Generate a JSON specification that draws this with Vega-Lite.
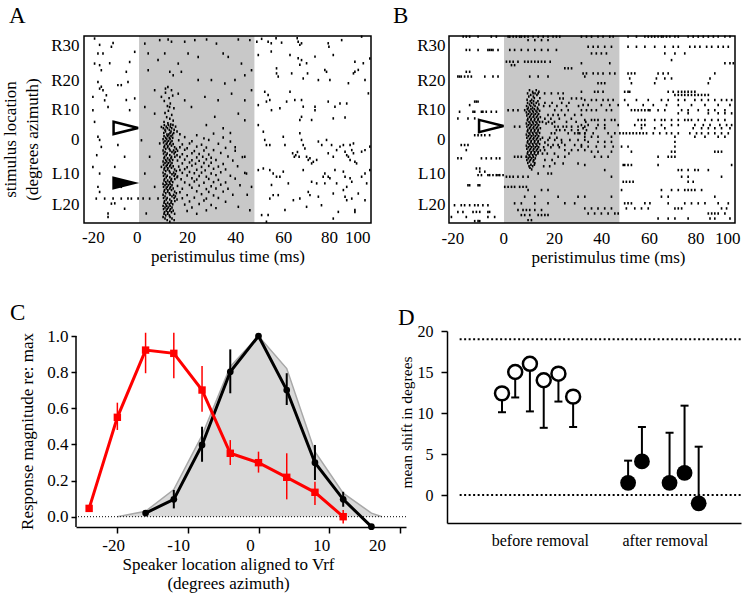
{
"$schema":"https://vega.github.io/schema/vega-lite/v6.json",
"background":"white",
"padding":{"left":1,"top":5,"right":5,"bottom":5},
"config":{"font":"Liberation Serif","view":{"stroke":null},
"axis":{"labelFont":"Liberation Serif","titleFont":"Liberation Serif","labelFontSize":17,"titleFontSize":17,"titleFontWeight":"normal","labelColor":"black","titleColor":"black","domainColor":"black","tickColor":"black","domainWidth":1.5,"tickWidth":1.5,"grid":false,"labelOverlap":false,"labelFlush":false},
"title":{"font":"Liberation Serif","fontSize":23,"fontWeight":"normal","anchor":"start","frame":"group","color":"black","baseline":"alphabetic"}},
"datasets":{
"a":[
{"t":-18.5,"y":32.3},{"t":-10.8,"y":30.9},{"t":-17.1,"y":27.6},{"t":-1.8,"y":28.1},{"t":-18.5,"y":24.4},{"t":-15.7,"y":22.3},{"t":-5.3,"y":21.8},{"t":-17.1,"y":18.6},{"t":-4.6,"y":18.6},{"t":-16.4,"y":16.5},{"t":-15,"y":16},{"t":-13.6,"y":14.4},{"t":-19.2,"y":13.9},{"t":-14.3,"y":12.8},{"t":-12.9,"y":10.7},{"t":-1.8,"y":13.4},{"t":-3.9,"y":9.7},{"t":-18.5,"y":6},{"t":-17.1,"y":1.3},{"t":-17.6,"y":-4.5},{"t":-16.4,"y":-10.3},{"t":-10.1,"y":-8.2},{"t":-7.4,"y":-14.5},{"t":-17.8,"y":-18.2},{"t":-14.3,"y":-18.2},{"t":-10.8,"y":-18.2},{"t":-7.4,"y":-18.2},{"t":-4.6,"y":-18.2},{"t":-3.2,"y":-18.2},{"t":-0.4,"y":-18.2},{"t":-12.9,"y":-22.9},{"t":-6,"y":-21.4},{"t":-11.5,"y":29.7},{"t":-3.9,"y":24.9},{"t":-8.8,"y":17.6},{"t":-19.2,"y":9.7},{"t":-15.7,"y":-1.9},{"t":-6,"y":-5},{"t":-11.5,"y":-19.8},{"t":-16.4,"y":-16.1},{"t":-16.4,"y":30.3},{"t":-15,"y":27.6},{"t":-12.2,"y":24.5},{"t":-16.4,"y":23.9},{"t":-15.7,"y":17.1},{"t":-7.4,"y":17.6},{"t":-5.3,"y":12.9},{"t":-16.4,"y":0.3},{"t":-8.8,"y":-1.3},{"t":-19.2,"y":-8.2},{"t":-17.1,"y":-14.5},{"t":-10.1,"y":-19.7},{"t":-12.9,"y":-24},
{"t":2.4,"y":30.7},{"t":8.6,"y":31.8},{"t":12.1,"y":32},{"t":13.5,"y":31.3},{"t":19,"y":31.3},{"t":23.2,"y":31.8},{"t":28.1,"y":32},{"t":32.2,"y":30.7},{"t":41.3,"y":32},{"t":46.1,"y":31.8},{"t":3.8,"y":27.6},{"t":7.9,"y":25.5},{"t":10.7,"y":27.6},{"t":16.3,"y":24.4},{"t":20.4,"y":27.6},{"t":24.6,"y":26.5},{"t":35,"y":27.6},{"t":37.1,"y":26.5},{"t":42.6,"y":24.4},{"t":46.8,"y":22.3},{"t":3.8,"y":22.3},{"t":12.8,"y":21.8},{"t":14.2,"y":20.7},{"t":17.6,"y":21.8},{"t":24.6,"y":19.2},{"t":30.1,"y":19.2},{"t":35.7,"y":18.1},{"t":39.9,"y":19.2},{"t":44,"y":20.7},{"t":6.5,"y":16},{"t":9.3,"y":13.9},{"t":16.3,"y":14.9},{"t":19,"y":12.8},{"t":27.4,"y":13.9},{"t":32.9,"y":12.8},{"t":38.5,"y":14.9},{"t":44,"y":12.8},{"t":46.8,"y":16},{"t":2.4,"y":10.7},{"t":6.5,"y":8.6},{"t":21.8,"y":10.7},{"t":31.5,"y":7.6},{"t":41.3,"y":8.6},{"t":44,"y":6.5},
{"t":1,"y":0.2},{"t":4.4,"y":-5},{"t":2.4,"y":-10.3},{"t":6.5,"y":-14.5},{"t":7.9,"y":-18.2},{"t":4.4,"y":-18.2},{"t":1.7,"y":-18.2},{"t":3,"y":-22.9},{"t":9.3,"y":4.4},{"t":8.6,"y":-0.8},{"t":9.3,"y":-8.2},{"t":44,"y":-5},{"t":46.8,"y":-14.5},{"t":46.1,"y":-21.9},{"t":41.3,"y":-20.8},{"t":44.7,"y":-10.3},{"t":40,"y":-2},{"t":38,"y":2.5},{"t":35,"y":4},{"t":28,"y":5},{"t":45,"y":-17},
{"t":12,"y":17},{"t":13.5,"y":16},{"t":11,"y":15.2},{"t":14,"y":14.3},{"t":12.5,"y":13.5},{"t":10.5,"y":12.6},{"t":13,"y":11.8},{"t":11.8,"y":11},{"t":14.5,"y":10.3},{"t":12.2,"y":9.5},{"t":10.8,"y":8.8},{"t":13.6,"y":8.2},{"t":11.5,"y":7.5},{"t":12.8,"y":7},{"t":14.2,"y":6.4},{"t":10.4,"y":6},{"t":12,"y":5.6},{"t":13.2,"y":5.2},{"t":11,"y":16.5},{"t":12.7,"y":10.7},
{"t":10.5,"y":5},{"t":12.2,"y":5},{"t":14.1,"y":5},{"t":11.3,"y":4.5},{"t":13,"y":4.5},{"t":15.2,"y":4.5},{"t":10.1,"y":4},{"t":11.8,"y":4},{"t":13.6,"y":4},{"t":12.6,"y":3.5},{"t":14.6,"y":3.5},{"t":10.8,"y":3.5},{"t":11,"y":3},{"t":13.3,"y":3},{"t":15.8,"y":3},{"t":10.3,"y":2.5},{"t":12.9,"y":2.5},{"t":14.4,"y":2.5},{"t":11.6,"y":2},{"t":12.4,"y":2},{"t":13.9,"y":2},{"t":10.4,"y":1.5},{"t":11.9,"y":1.5},{"t":13.3,"y":1.5},{"t":11.1,"y":1},{"t":12.6,"y":1},{"t":14,"y":1},{"t":10,"y":0.5},{"t":11.5,"y":0.5},{"t":12.9,"y":0.5},{"t":10.8,"y":0},{"t":12.2,"y":0},{"t":13.7,"y":0},{"t":10.2,"y":-0.5},{"t":11.7,"y":-0.5},{"t":13.1,"y":-0.5},{"t":11.3,"y":-1},{"t":12.8,"y":-1},{"t":14.2,"y":-1},{"t":10.6,"y":-1.5},{"t":12,"y":-1.5},{"t":13.5,"y":-1.5},{"t":10.4,"y":-2},{"t":11.9,"y":-2},{"t":14.8,"y":-2},{"t":11.1,"y":-2.5},{"t":12.6,"y":-2.5},{"t":15.5,"y":-2.5},{"t":10,"y":-3},{"t":12.9,"y":-3},{"t":14.4,"y":-3},{"t":10.8,"y":-3.5},{"t":13.7,"y":-3.5},{"t":15.1,"y":-3.5},{"t":10.2,"y":-4},{"t":11.7,"y":-4},{"t":14.6,"y":-4},{"t":11.3,"y":-4.5},{"t":12.8,"y":-4.5},{"t":15.8,"y":-4.5},{"t":10.6,"y":-5},{"t":13.5,"y":-5},{"t":14.9,"y":-5},{"t":10.4,"y":-5.5},{"t":11.9,"y":-5.5},{"t":13.3,"y":-5.5},{"t":11.1,"y":-6},{"t":12.6,"y":-6},{"t":14,"y":-6},{"t":10,"y":-6.5},{"t":11.5,"y":-6.5},{"t":12.9,"y":-6.5},{"t":10.8,"y":-7},{"t":12.2,"y":-7},{"t":13.7,"y":-7},{"t":10.2,"y":-7.5},{"t":11.7,"y":-7.5},{"t":13.1,"y":-7.5},{"t":11.3,"y":-8},{"t":12.8,"y":-8},{"t":14.2,"y":-8},{"t":10.6,"y":-8.5},{"t":12,"y":-8.5},{"t":13.5,"y":-8.5},{"t":10.4,"y":-9},{"t":11.9,"y":-9},{"t":14.8,"y":-9},{"t":11.1,"y":-9.5},{"t":12.6,"y":-9.5},{"t":15.5,"y":-9.5},{"t":10,"y":-10},{"t":12.9,"y":-10},{"t":14.4,"y":-10},{"t":10.8,"y":-10.5},{"t":13.7,"y":-10.5},{"t":15.1,"y":-10.5},{"t":10.2,"y":-11},{"t":11.7,"y":-11},{"t":14.6,"y":-11},{"t":11.3,"y":-11.5},{"t":12.8,"y":-11.5},{"t":15.8,"y":-11.5},{"t":10.6,"y":-12},{"t":13.5,"y":-12},{"t":14.9,"y":-12},{"t":10.4,"y":-12.5},{"t":11.9,"y":-12.5},{"t":13.3,"y":-12.5},{"t":11.1,"y":-13},{"t":12.6,"y":-13},{"t":14,"y":-13},{"t":10,"y":-13.5},{"t":11.5,"y":-13.5},{"t":12.9,"y":-13.5},{"t":10.8,"y":-14},{"t":12.2,"y":-14},{"t":13.7,"y":-14},{"t":10.2,"y":-14.5},{"t":11.7,"y":-14.5},{"t":13.1,"y":-14.5},{"t":11.3,"y":-15},{"t":12.8,"y":-15},{"t":14.2,"y":-15},{"t":10.6,"y":-15.5},{"t":12,"y":-15.5},{"t":13.5,"y":-15.5},{"t":10.4,"y":-16},{"t":11.9,"y":-16},{"t":14.8,"y":-16},{"t":11.1,"y":-16.5},{"t":12.6,"y":-16.5},{"t":15.5,"y":-16.5},{"t":10,"y":-17},{"t":12.9,"y":-17},{"t":14.4,"y":-17},{"t":10.8,"y":-17.5},{"t":13.7,"y":-17.5},{"t":15.1,"y":-17.5},{"t":10.2,"y":-18},{"t":11.7,"y":-18},{"t":14.6,"y":-18},{"t":11.3,"y":-18.5},{"t":12.8,"y":-18.5},{"t":15.8,"y":-18.5},{"t":10.6,"y":-19},{"t":13.5,"y":-19},{"t":14.9,"y":-19},{"t":10.4,"y":-19.5},{"t":11.9,"y":-19.5},{"t":13.3,"y":-19.5},{"t":11.1,"y":-20},{"t":12.6,"y":-20},{"t":14,"y":-20},{"t":10,"y":-20.5},{"t":11.5,"y":-20.5},{"t":12.9,"y":-20.5},{"t":10.8,"y":-21},{"t":12.2,"y":-21},{"t":13.7,"y":-21},{"t":10.2,"y":-21.5},{"t":11.7,"y":-21.5},{"t":13.1,"y":-21.5},{"t":11.3,"y":-22},{"t":12.8,"y":-22},{"t":14.2,"y":-22},{"t":10.6,"y":-22.5},{"t":12,"y":-22.5},{"t":13.5,"y":-22.5},{"t":10.4,"y":-23},{"t":11.9,"y":-23},{"t":14.8,"y":-23},{"t":11.1,"y":-23.5},{"t":12.6,"y":-23.5},{"t":10,"y":-24},{"t":12.9,"y":-24},{"t":10.8,"y":-24.5},{"t":13.7,"y":-24.5},{"t":11.7,"y":-25},{"t":14.6,"y":-25},{"t":12.8,"y":-25.5},
{"t":17,"y":2.1},{"t":24,"y":1.8},{"t":31,"y":2.3},{"t":19,"y":1.2},{"t":27,"y":0.8},{"t":35,"y":1.1},{"t":16.5,"y":0.2},{"t":22,"y":-0.1},{"t":29,"y":0.3},{"t":38,"y":-0.2},{"t":18,"y":-1.1},{"t":21,"y":-0.8},{"t":26,"y":-1.2},{"t":33,"y":-0.9},{"t":17,"y":-2},{"t":20,"y":-2.3},{"t":24,"y":-1.8},{"t":28,"y":-2.1},{"t":36,"y":-2.2},{"t":16,"y":-3.1},{"t":19,"y":-2.8},{"t":23,"y":-3.2},{"t":27,"y":-3},{"t":31,"y":-2.9},{"t":40,"y":-3.1},{"t":18,"y":-4.2},{"t":22,"y":-3.9},{"t":25,"y":-4.1},{"t":29,"y":-4.3},{"t":34,"y":-3.8},{"t":17,"y":-5.1},{"t":20,"y":-4.8},{"t":24,"y":-5.2},{"t":26.5,"y":-5},{"t":30,"y":-5.3},{"t":37,"y":-4.9},{"t":43,"y":-5.1},{"t":16,"y":-6.2},{"t":19,"y":-5.9},{"t":22,"y":-6.1},{"t":25,"y":-6.3},{"t":28,"y":-5.8},{"t":32,"y":-6},{"t":39,"y":-6.2},{"t":18,"y":-7.1},{"t":21,"y":-6.8},{"t":23.5,"y":-7.2},{"t":27,"y":-7},{"t":30,"y":-6.9},{"t":35,"y":-7.3},{"t":16.5,"y":-8.1},{"t":20,"y":-8.3},{"t":22,"y":-7.8},{"t":26,"y":-8.2},{"t":29,"y":-7.9},{"t":33,"y":-8.1},{"t":41,"y":-8},{"t":17,"y":-9.2},{"t":19,"y":-8.9},{"t":24,"y":-9.1},{"t":27.5,"y":-9.3},{"t":31,"y":-8.8},{"t":36,"y":-9},{"t":18,"y":-10.1},{"t":21,"y":-9.8},{"t":23,"y":-10.2},{"t":26,"y":-10},{"t":30,"y":-10.3},{"t":34,"y":-9.9},{"t":44,"y":-10.1},{"t":16,"y":-11.2},{"t":20,"y":-10.9},{"t":25,"y":-11.1},{"t":28,"y":-11.3},{"t":32,"y":-10.8},{"t":38,"y":-11},{"t":17.5,"y":-12.1},{"t":22,"y":-11.8},{"t":24,"y":-12.2},{"t":29,"y":-12},{"t":33,"y":-12.3},{"t":40,"y":-11.9},{"t":19,"y":-13.1},{"t":23,"y":-12.8},{"t":27,"y":-13.2},{"t":31,"y":-13},{"t":36,"y":-13.1},{"t":16,"y":-14.2},{"t":21,"y":-13.9},{"t":25,"y":-14.1},{"t":30,"y":-14.3},{"t":34,"y":-13.8},{"t":42,"y":-14},{"t":18,"y":-15.1},{"t":22,"y":-14.8},{"t":28,"y":-15.2},{"t":32,"y":-15},{"t":37,"y":-15.1},{"t":17,"y":-16.2},{"t":24,"y":-15.9},{"t":29,"y":-16.1},{"t":35,"y":-16},{"t":20,"y":-17.1},{"t":26,"y":-16.8},{"t":31,"y":-17.2},{"t":39,"y":-17},{"t":18,"y":-18.1},{"t":23,"y":-17.9},{"t":28,"y":-18.2},{"t":33,"y":-18},{"t":21,"y":-19.1},{"t":27,"y":-18.8},{"t":36,"y":-19.2},{"t":19,"y":-20.1},{"t":25,"y":-19.9},{"t":30,"y":-20.2},{"t":22,"y":-21},{"t":32,"y":-21.2},{"t":20,"y":-22.1},{"t":28,"y":-21.9},{"t":24,"y":-23},
{"t":49,"y":31.3},{"t":51,"y":32.2},{"t":53.7,"y":31.3},{"t":55,"y":30.8},{"t":57,"y":32.4},{"t":59.3,"y":31},{"t":65.8,"y":32.4},{"t":66.2,"y":31.3},{"t":66.9,"y":30.3},{"t":67.6,"y":30.8},{"t":78.7,"y":30.8},{"t":79,"y":29.7},{"t":84.3,"y":31.8},{"t":92.6,"y":32.9},
{"t":49.6,"y":27.1},{"t":55,"y":28.2},{"t":62.8,"y":27.1},{"t":66.2,"y":26.1},{"t":67.6,"y":25.5},{"t":66.9,"y":24},{"t":69.7,"y":24.5},{"t":73.2,"y":26.6},{"t":77.3,"y":22.4},{"t":78,"y":21.8},{"t":80.8,"y":27.1},{"t":89.8,"y":25},{"t":91.2,"y":22.4},{"t":93.3,"y":24.5},{"t":96,"y":26},
{"t":57.2,"y":21.3},{"t":57.9,"y":20.3},{"t":57.2,"y":22.9},{"t":63.5,"y":21.3},{"t":68.3,"y":19.7},{"t":70.1,"y":21.3},{"t":74.6,"y":19.2},{"t":79.4,"y":19.2},{"t":87.1,"y":18.2},{"t":89.2,"y":21.3},{"t":89.8,"y":21.8},{"t":94,"y":19.2},{"t":95.4,"y":15},
{"t":52.3,"y":15.5},{"t":53.7,"y":14.5},{"t":54.4,"y":12.9},{"t":53,"y":12.4},{"t":49.6,"y":11.3},{"t":55.1,"y":9.7},{"t":58.6,"y":10.3},{"t":61.4,"y":12.4},{"t":62.8,"y":15.5},{"t":64.8,"y":12.9},{"t":67.6,"y":12.9},{"t":68.3,"y":10.8},{"t":73.2,"y":10.8},{"t":73.2,"y":9.7},{"t":67.6,"y":7.6},{"t":66.9,"y":6.6},{"t":71.8,"y":6.6},{"t":78.7,"y":12.4},{"t":83.6,"y":11.8},{"t":86.4,"y":11.8},{"t":81.5,"y":10.8},{"t":85.7,"y":7.4},{"t":80.8,"y":7.1},
{"t":49.6,"y":5},{"t":51.7,"y":2.9},{"t":52.3,"y":0.3},{"t":53,"y":-1.3},{"t":54.4,"y":-1.3},{"t":60,"y":1.3},{"t":60.7,"y":-1.3},{"t":66.9,"y":2.4},{"t":67.6,"y":0.3},{"t":68.3,"y":-1.3},{"t":69,"y":-2.4},{"t":63.9,"y":-3.9},{"t":64.6,"y":-5},{"t":65.2,"y":-4.5},{"t":65.9,"y":-3.5},{"t":66.6,"y":-5},{"t":69.7,"y":-5},{"t":70.4,"y":-6},{"t":71.1,"y":-5.5},{"t":71.8,"y":-7.1},{"t":72.5,"y":-6.6},{"t":73.9,"y":-6},{"t":74.6,"y":-0.2},{"t":76,"y":-1.3},{"t":78,"y":0.3},{"t":80.1,"y":-1.3},{"t":78.7,"y":-3.9},{"t":80.8,"y":-5},{"t":82.2,"y":-2.9},{"t":83.6,"y":-1.8},{"t":85,"y":-1.3},{"t":85.7,"y":-3.4},{"t":86.4,"y":-4.5},{"t":87.1,"y":-5},{"t":87.8,"y":-6},{"t":87.8,"y":-1.3},{"t":88.5,"y":-2.9},{"t":89.2,"y":-0.8},{"t":89.2,"y":-3.9},{"t":89.8,"y":-6.6},{"t":90.5,"y":-7.1},{"t":92.6,"y":-3.4},{"t":94,"y":-2.9},{"t":96,"y":-1.8},
{"t":49.6,"y":-9.2},{"t":51.7,"y":-8.7},{"t":54.4,"y":-9.2},{"t":55.8,"y":-10.3},{"t":57.2,"y":-11.3},{"t":58.6,"y":-11.3},{"t":60,"y":-9.7},{"t":62.1,"y":-13.4},{"t":68.3,"y":-9.2},{"t":71.8,"y":-12.9},{"t":73.9,"y":-13.4},{"t":76.6,"y":-11.3},{"t":77.3,"y":-10.3},{"t":78.7,"y":-11.3},{"t":79.4,"y":-11.8},{"t":81.5,"y":-9.2},{"t":82.2,"y":-13.4},{"t":85,"y":-9.7},{"t":85.7,"y":-11.3},{"t":86.4,"y":-14.5},{"t":85,"y":-15.5},{"t":87.8,"y":-11.8},{"t":88.5,"y":-12.9},{"t":92.6,"y":-11.3},{"t":94,"y":-10.3},{"t":94.7,"y":-13.4},{"t":96,"y":-9.2},
{"t":55.1,"y":-13.9},{"t":55.8,"y":-17.1},{"t":54.4,"y":-18.2},{"t":57.9,"y":-17.1},{"t":64.2,"y":-18.7},{"t":66.9,"y":-18.2},{"t":70.4,"y":-16.1},{"t":71.1,"y":-17.1},{"t":74.6,"y":-17.6},{"t":77.3,"y":-13.4},{"t":80.8,"y":-16.6},{"t":85.7,"y":-17.6},{"t":86.4,"y":-18.7},{"t":88.5,"y":-18.2},{"t":89.8,"y":-21.8},{"t":91.2,"y":-16.6},
{"t":53.7,"y":-23.4},{"t":51,"y":-23.4},{"t":53,"y":-25.5},{"t":60.7,"y":-21.8},{"t":69.7,"y":-20.8},{"t":75.9,"y":-20.3},{"t":80.8,"y":-24.5},{"t":82.9,"y":-22.4},{"t":89.8,"y":-22.4},{"t":94,"y":-18.7}
],
"b":[
{"t":-17,"y":32.9},{"t":-15.7,"y":32.9},{"t":-14.3,"y":32.9},{"t":-10.8,"y":32.9},{"t":-5.3,"y":32.9},{"t":-3.2,"y":32.9},
{"t":-15.7,"y":28.7},{"t":-14.3,"y":28.7},{"t":-10.8,"y":28.7},{"t":-6.7,"y":28.7},{"t":-6,"y":28.7},{"t":-5.3,"y":28.7},{"t":-4.6,"y":28.7},{"t":-2.5,"y":28.7},
{"t":-15.7,"y":21.8},{"t":-14.3,"y":21.8},
{"t":-19.2,"y":20.3},{"t":-18.5,"y":20.3},{"t":-17.8,"y":20.3},{"t":-16.4,"y":20.3},{"t":-15,"y":20.3},{"t":-13.6,"y":20.3},{"t":-8,"y":20.3},{"t":-4.6,"y":20.3},{"t":-2.5,"y":20.3},
{"t":-12.2,"y":12.4},{"t":-11.5,"y":12.4},{"t":-10.8,"y":12.4},{"t":-14.3,"y":11.3},
{"t":-18.5,"y":9.2},{"t":-12.9,"y":9.2},{"t":-12.2,"y":9.2},{"t":-9.4,"y":9.2},{"t":-8.8,"y":9.2},{"t":-7.4,"y":9.2},{"t":-5.3,"y":9.2},{"t":-3.2,"y":9.2},
{"t":-19.2,"y":7.1},{"t":-15,"y":7.1},{"t":-12.2,"y":7.1},
{"t":-12.2,"y":1.8},{"t":-10.8,"y":1.8},{"t":-9.4,"y":1.8},{"t":-8,"y":1.8},{"t":-6,"y":1.8},
{"t":-17.8,"y":-1.3},{"t":-16.4,"y":-1.3},{"t":-15,"y":-1.3},{"t":-15.7,"y":-2.9},
{"t":-19.2,"y":-5.5},{"t":-17.8,"y":-5.5},{"t":-9.4,"y":-5.5},{"t":-7.4,"y":-5.5},{"t":-5.3,"y":-5.5},{"t":-3.2,"y":-5.5},{"t":-1.8,"y":-5.5},
{"t":-11.5,"y":-8.7},{"t":-10.1,"y":-8.7},{"t":-10.1,"y":-9.7},{"t":-8,"y":-9.7},
{"t":-10.8,"y":-10.8},{"t":-9.4,"y":-10.8},{"t":-6.7,"y":-10.8},{"t":-6,"y":-10.8},{"t":-4.6,"y":-10.8},{"t":-3.2,"y":-10.8},{"t":-2.5,"y":-10.8},{"t":-1.8,"y":-10.8},{"t":-0.4,"y":-10.8},
{"t":-15,"y":-14},{"t":-14.3,"y":-14},{"t":-10.8,"y":-14},{"t":-10.1,"y":-14},
{"t":-20.6,"y":-20.3},{"t":-17.8,"y":-20.3},{"t":-16.4,"y":-20.3},{"t":-14.3,"y":-20.3},{"t":-12.2,"y":-20.3},{"t":-10.8,"y":-20.3},{"t":-8.8,"y":-20.3},{"t":-6.7,"y":-20.3},
{"t":-19.2,"y":-22.4},{"t":-17.1,"y":-22.4},{"t":-12.9,"y":-22.4},{"t":-11.5,"y":-22.4},{"t":-10.1,"y":-22.4},{"t":-6.7,"y":-22.4},{"t":-6,"y":-22.4},
{"t":-21.9,"y":-24},{"t":-15.7,"y":-24},{"t":-6.7,"y":-24},{"t":-3.9,"y":-24},{"t":-12.2,"y":-25.3},{"t":-10.8,"y":-25.3},{"t":-10.1,"y":-25.3},
{"t":1.7,"y":32.9},{"t":2.4,"y":32.9},{"t":3.8,"y":32.9},{"t":5.1,"y":32.9},{"t":6.5,"y":32.9},{"t":7.2,"y":32.9},{"t":8.6,"y":32.9},{"t":10,"y":32.9},{"t":12.1,"y":32.9},{"t":14.2,"y":32.9},{"t":16.3,"y":32.9},{"t":18.3,"y":32.9},{"t":20.4,"y":32.9},{"t":21.8,"y":32.9},{"t":23.2,"y":32.9},
{"t":10,"y":31.8},{"t":12.8,"y":31.8},{"t":15.6,"y":31.8},{"t":18.3,"y":31.8},
{"t":2.4,"y":28.7},{"t":4.4,"y":28.7},{"t":7.2,"y":28.7},{"t":10,"y":28.7},{"t":12.8,"y":28.7},{"t":15.6,"y":28.7},{"t":18.3,"y":28.7},{"t":21.8,"y":28.7},
{"t":1,"y":25},{"t":2.4,"y":25},{"t":3.8,"y":25},{"t":5.8,"y":25},{"t":8.6,"y":25},{"t":10,"y":25},{"t":11.4,"y":25},{"t":12.8,"y":25},{"t":14.2,"y":25},{"t":15.6,"y":25},{"t":17,"y":25},{"t":19.2,"y":25},
{"t":3.1,"y":23.9},{"t":4.4,"y":23.9},{"t":25.3,"y":22.9},{"t":26.7,"y":22.9},{"t":28.1,"y":22.9},
{"t":10.7,"y":20.3},{"t":14.2,"y":20.3},{"t":18.3,"y":20.3},{"t":33.6,"y":20.3},
{"t":12.1,"y":15},{"t":14.2,"y":15},{"t":16.9,"y":15},{"t":19.7,"y":15},{"t":22.5,"y":15},{"t":24.6,"y":15},
{"t":23.2,"y":13.4},{"t":24.6,"y":13.4},{"t":28.1,"y":13.4},{"t":30.1,"y":13.4},{"t":32.2,"y":13.4},
{"t":1.7,"y":9.7},{"t":3.8,"y":9.7},{"t":5.8,"y":9.7},{"t":8.6,"y":9.7},{"t":21.1,"y":9.7},{"t":23.9,"y":9.7},{"t":26.7,"y":9.7},
{"t":18.3,"y":8.2},{"t":20.4,"y":8.2},{"t":22.5,"y":8.2},{"t":25.3,"y":8.2},{"t":29.4,"y":8.2},{"t":32.2,"y":8.2},
{"t":4.4,"y":4.5},{"t":6.5,"y":4.5},{"t":21.1,"y":4.5},{"t":22.5,"y":4.5},{"t":24.6,"y":4.5},{"t":26,"y":4.5},{"t":28.1,"y":4.5},{"t":30.8,"y":4.5},{"t":33.6,"y":4.5},
{"t":21.8,"y":3.4},{"t":23.2,"y":3.4},{"t":25.3,"y":3.4},{"t":28.1,"y":3.4},{"t":30.8,"y":3.4},{"t":34.3,"y":3.4},
{"t":19.7,"y":2.4},{"t":21.1,"y":2.4},{"t":26.7,"y":2.4},{"t":29.4,"y":2.4},{"t":31.5,"y":2.4},{"t":33.6,"y":2.4},
{"t":18.3,"y":0.3},{"t":21.1,"y":0.3},{"t":23.9,"y":0.3},{"t":27.4,"y":0.3},{"t":30.8,"y":0.3},{"t":33.6,"y":0.3},
{"t":18.3,"y":-1.3},{"t":20.4,"y":-1.3},{"t":22.5,"y":-1.3},{"t":25.3,"y":-1.3},{"t":29.4,"y":-1.3},{"t":32.2,"y":-1.3},
{"t":16.9,"y":-2.9},{"t":25.3,"y":-2.9},{"t":28.1,"y":-2.9},{"t":30.8,"y":-2.9},{"t":33.6,"y":-2.9},
{"t":4.4,"y":-5},{"t":5.8,"y":-5},{"t":7.2,"y":-5},{"t":9.3,"y":-5},{"t":22.5,"y":-5},{"t":25.3,"y":-5},
{"t":21.1,"y":-7.1},{"t":24.6,"y":-7.1},{"t":30.8,"y":-7.1},{"t":14.2,"y":-10.3},{"t":18.3,"y":-10.3},{"t":19.7,"y":-10.3},
{"t":1,"y":-11.3},{"t":2.4,"y":-11.3},{"t":3.8,"y":-11.3},{"t":5.8,"y":-11.3},{"t":7.9,"y":-11.3},{"t":10,"y":-11.3},
{"t":0.3,"y":-14.5},{"t":1.7,"y":-14.5},{"t":3.1,"y":-14.5},{"t":4.4,"y":-14.5},{"t":6.5,"y":-14.5},{"t":7.9,"y":-14.5},{"t":9.3,"y":-14.5},
{"t":10,"y":-15.5},{"t":15.6,"y":-15.5},{"t":18.3,"y":-15.5},{"t":8.6,"y":-17.6},{"t":12.8,"y":-17.6},{"t":22.5,"y":-17.6},{"t":30.8,"y":-17.6},
{"t":4.4,"y":-19.7},{"t":7.2,"y":-19.7},{"t":12.8,"y":-19.7},{"t":18.3,"y":-19.7},{"t":25.3,"y":-19.7},{"t":29.4,"y":-19.7},
{"t":5.8,"y":-21.8},{"t":7.9,"y":-21.8},{"t":9.3,"y":-21.8},{"t":10.7,"y":-21.8},{"t":12.8,"y":-21.8},{"t":15.6,"y":-21.8},
{"t":7.2,"y":-23.4},{"t":8.6,"y":-23.4},{"t":10.7,"y":-23.4},{"t":14.2,"y":-23.4},{"t":15.6,"y":-23.4},{"t":17,"y":-23.4},{"t":18.3,"y":-23.4},{"t":10,"y":-25},{"t":11.4,"y":-25},
{"t":17,"y":12},{"t":20,"y":12},{"t":24,"y":12},{"t":27,"y":12},{"t":16.5,"y":11},{"t":19,"y":11},{"t":22,"y":11},{"t":26,"y":11},{"t":31,"y":11},{"t":17,"y":7},{"t":19.5,"y":7},{"t":23,"y":7},{"t":28,"y":7},{"t":16,"y":6},{"t":18.5,"y":6},{"t":21,"y":6},{"t":26,"y":6},{"t":30,"y":6},{"t":34,"y":6},{"t":17.5,"y":5.5},{"t":20,"y":5.5},{"t":16,"y":1},{"t":19,"y":1},{"t":22,"y":1},{"t":17,"y":-0.5},{"t":24,"y":-0.5},{"t":16.5,"y":-2},{"t":19.5,"y":-2},{"t":23,"y":-2},{"t":16,"y":-4},{"t":18,"y":-4},{"t":21,"y":-4},{"t":27,"y":-4},{"t":17,"y":-6},{"t":20,"y":-6},{"t":16.5,"y":-8},{"t":19,"y":-8},
{"t":10.6,"y":16},{"t":13.4,"y":16},{"t":11.9,"y":15.5},{"t":14.5,"y":15.5},{"t":9.8,"y":15},{"t":12.9,"y":15},{"t":11.1,"y":14.5},{"t":13.7,"y":14.5},{"t":10.3,"y":14},{"t":12.2,"y":14},{"t":12.6,"y":13.5},{"t":14.9,"y":13.5},{"t":9.6,"y":13},{"t":11.5,"y":13},
{"t":10.9,"y":12.5},{"t":12.3,"y":12.5},{"t":14.1,"y":12.5},{"t":9.8,"y":12},{"t":11.5,"y":12},{"t":13.4,"y":12},{"t":10.6,"y":11.5},{"t":12.3,"y":11.5},{"t":14.5,"y":11.5},{"t":9.4,"y":11},{"t":11.1,"y":11},{"t":12.9,"y":11},{"t":11.9,"y":10.5},{"t":13.9,"y":10.5},{"t":10.1,"y":10.5},
{"t":9.7,"y":10},{"t":11.2,"y":10},{"t":12.6,"y":10},{"t":14.1,"y":10},{"t":10.4,"y":9.5},{"t":11.9,"y":9.5},{"t":13.3,"y":9.5},{"t":14.8,"y":9.5},{"t":9.3,"y":9},{"t":10.8,"y":9},{"t":12.2,"y":9},{"t":13.7,"y":9},{"t":10.1,"y":8.5},{"t":11.5,"y":8.5},{"t":13,"y":8.5},{"t":14.4,"y":8.5},{"t":9.5,"y":8},{"t":11,"y":8},{"t":12.4,"y":8},{"t":13.9,"y":8},{"t":10.6,"y":7.5},{"t":12.1,"y":7.5},{"t":13.5,"y":7.5},{"t":15.1,"y":7.5},{"t":9.9,"y":7},{"t":11.3,"y":7},{"t":12.8,"y":7},{"t":14.2,"y":7},
{"t":9.7,"y":6.5},{"t":11.2,"y":6.5},{"t":12.6,"y":6.5},{"t":14.1,"y":6.5},{"t":10.4,"y":6},{"t":11.9,"y":6},{"t":13.3,"y":6},{"t":14.8,"y":6},{"t":9.3,"y":5.5},{"t":10.8,"y":5.5},{"t":12.2,"y":5.5},{"t":13.7,"y":5.5},{"t":10.1,"y":5},{"t":11.5,"y":5},{"t":13,"y":5},{"t":14.4,"y":5},{"t":9.5,"y":4.5},{"t":11,"y":4.5},{"t":12.4,"y":4.5},{"t":13.9,"y":4.5},{"t":10.6,"y":4},{"t":12.1,"y":4},{"t":13.5,"y":4},{"t":15.1,"y":4},{"t":9.9,"y":3.5},{"t":11.3,"y":3.5},{"t":12.8,"y":3.5},{"t":14.2,"y":3.5},
{"t":9.7,"y":3},{"t":11.2,"y":3},{"t":12.6,"y":3},{"t":14.1,"y":3},{"t":10.4,"y":2.5},{"t":11.9,"y":2.5},{"t":13.3,"y":2.5},{"t":14.8,"y":2.5},{"t":9.3,"y":2},{"t":10.8,"y":2},{"t":12.2,"y":2},{"t":13.7,"y":2},{"t":10.1,"y":1.5},{"t":11.5,"y":1.5},{"t":13,"y":1.5},{"t":14.4,"y":1.5},{"t":9.5,"y":1},{"t":11,"y":1},{"t":12.4,"y":1},{"t":13.9,"y":1},{"t":10.6,"y":0.5},{"t":12.1,"y":0.5},{"t":13.5,"y":0.5},{"t":15.1,"y":0.5},{"t":9.9,"y":0},{"t":11.3,"y":0},{"t":12.8,"y":0},{"t":14.2,"y":0},
{"t":9.7,"y":-0.5},{"t":11.2,"y":-0.5},{"t":12.6,"y":-0.5},{"t":14.1,"y":-0.5},{"t":10.4,"y":-1},{"t":11.9,"y":-1},{"t":13.3,"y":-1},{"t":14.8,"y":-1},{"t":9.3,"y":-1.5},{"t":10.8,"y":-1.5},{"t":12.2,"y":-1.5},{"t":13.7,"y":-1.5},{"t":10.1,"y":-2},{"t":11.5,"y":-2},{"t":13,"y":-2},{"t":14.4,"y":-2},{"t":9.5,"y":-2.5},{"t":11,"y":-2.5},{"t":12.4,"y":-2.5},{"t":13.9,"y":-2.5},{"t":10.6,"y":-3},{"t":12.1,"y":-3},{"t":13.5,"y":-3},{"t":15.1,"y":-3},{"t":9.9,"y":-3.5},{"t":11.3,"y":-3.5},{"t":12.8,"y":-3.5},{"t":14.2,"y":-3.5},
{"t":9.7,"y":-4},{"t":11.2,"y":-4},{"t":12.6,"y":-4},{"t":14.1,"y":-4},{"t":10.4,"y":-4.5},{"t":11.9,"y":-4.5},{"t":13.3,"y":-4.5},{"t":9.3,"y":-5},{"t":10.8,"y":-5},{"t":12.2,"y":-5},{"t":10.1,"y":-5.5},{"t":11.5,"y":-5.5},{"t":13,"y":-5.5},{"t":9.5,"y":-6},{"t":11,"y":-6},{"t":12.4,"y":-6},{"t":10.6,"y":-6.5},{"t":12.1,"y":-6.5},{"t":9.9,"y":-7},{"t":12.8,"y":-7},{"t":11.2,"y":-7.5},{"t":12.6,"y":-7.5},{"t":10.4,"y":-8},{"t":11.9,"y":-8},{"t":10.8,"y":-8.5},{"t":11.5,"y":-9},
{"t":32.2,"y":32.9},{"t":34.3,"y":32.9},{"t":36.4,"y":32.9},{"t":39.1,"y":32.9},{"t":41.2,"y":32.9},{"t":44,"y":32.9},{"t":45.4,"y":32.9},{"t":51.6,"y":32.9},{"t":55.1,"y":32.9},{"t":58.6,"y":32.9},{"t":60,"y":32.9},{"t":61.4,"y":32.9},{"t":62.7,"y":32.9},{"t":64.1,"y":32.9},{"t":65.5,"y":32.9},{"t":66.2,"y":32.9},{"t":67.6,"y":32.9},{"t":69,"y":32.9},{"t":71.1,"y":32.9},{"t":72.5,"y":32.9},{"t":76.6,"y":32.9},{"t":78.7,"y":32.9},{"t":80.8,"y":32.9},{"t":82.9,"y":32.9},{"t":85,"y":32.9},{"t":87.1,"y":32.9},{"t":89.1,"y":32.9},{"t":91.9,"y":32.9},{"t":94,"y":32.9},
{"t":35,"y":29.7},{"t":37.1,"y":29.7},{"t":39.1,"y":29.7},{"t":41.9,"y":29.7},{"t":44.7,"y":29.7},{"t":51.6,"y":29.7},{"t":55.1,"y":29.7},{"t":58.6,"y":29.7},{"t":62.7,"y":29.7},{"t":66.9,"y":29.7},{"t":70.4,"y":29.7},{"t":72.5,"y":29.7},{"t":77.3,"y":29.7},{"t":79.4,"y":29.7},{"t":81.5,"y":29.7},{"t":84.3,"y":29.7},{"t":86.4,"y":29.7},{"t":89.1,"y":29.7},{"t":91.2,"y":29.7},{"t":93.3,"y":29.7},
{"t":36.4,"y":27.6},{"t":38.4,"y":27.6},{"t":40.5,"y":27.6},{"t":42.6,"y":27.6},{"t":66.9,"y":27.6},{"t":71.1,"y":27.6},{"t":75.2,"y":27.6},{"t":69.7,"y":25.5},
{"t":32.2,"y":24.5},{"t":44,"y":24.5},{"t":91.9,"y":24.5},{"t":94,"y":24.5},{"t":95.4,"y":24.5},
{"t":32.9,"y":21.3},{"t":34.3,"y":21.3},{"t":37.1,"y":21.3},{"t":39.1,"y":21.3},{"t":41.2,"y":21.3},{"t":44,"y":21.3},{"t":46.1,"y":21.3},{"t":51.6,"y":21.3},{"t":53,"y":21.3},{"t":54.4,"y":21.3},{"t":64.1,"y":21.3},{"t":66.2,"y":21.3},{"t":68.3,"y":21.3},{"t":87.7,"y":21.3},
{"t":52.3,"y":19.7},{"t":63.4,"y":19.7},{"t":66.9,"y":19.7},{"t":69.7,"y":19.7},{"t":85.7,"y":19.7},
{"t":39.1,"y":18.2},{"t":40.5,"y":18.2},{"t":41.9,"y":18.2},{"t":53,"y":18.2},{"t":62.7,"y":18.2},{"t":85,"y":18.2},
{"t":32.2,"y":15.5},{"t":37.7,"y":15.5},{"t":39.1,"y":15.5},{"t":41.2,"y":15.5},{"t":50.2,"y":15.5},{"t":51.6,"y":15.5},{"t":52.3,"y":15.5},{"t":68.3,"y":15.5},{"t":70.4,"y":15.5},{"t":72.5,"y":15.5},{"t":73.9,"y":15.5},{"t":75.2,"y":15.5},{"t":76.6,"y":15.5},{"t":78,"y":15.5},{"t":79.4,"y":15.5},
{"t":71.1,"y":14.5},{"t":72.5,"y":14.5},{"t":73.9,"y":14.5},{"t":75.2,"y":14.5},{"t":76.6,"y":14.5},{"t":78,"y":14.5},{"t":79.4,"y":14.5},{"t":80.8,"y":14.5},{"t":82.2,"y":14.5},{"t":83.6,"y":14.5},{"t":85,"y":14.5},
{"t":33.6,"y":12.9},{"t":36.4,"y":12.9},{"t":38.4,"y":12.9},{"t":41.2,"y":12.9},{"t":43.3,"y":12.9},{"t":45.4,"y":12.9},{"t":50.2,"y":12.9},{"t":55.1,"y":12.9},{"t":60,"y":12.9},{"t":65.5,"y":12.9},{"t":68.3,"y":12.9},{"t":72.5,"y":12.9},{"t":75.2,"y":12.9},{"t":79.4,"y":12.9},{"t":82.2,"y":12.9},{"t":85,"y":12.9},{"t":87.7,"y":12.9},{"t":90.5,"y":12.9},{"t":92.6,"y":12.9},{"t":94.7,"y":12.9},
{"t":32.9,"y":11.3},{"t":35,"y":11.3},{"t":40.5,"y":11.3},{"t":44,"y":11.3},{"t":47.5,"y":11.3},{"t":51.6,"y":11.3},{"t":57.9,"y":11.3},{"t":62.1,"y":11.3},{"t":67.6,"y":11.3},{"t":72.5,"y":11.3},{"t":78,"y":11.3},{"t":83.6,"y":11.3},{"t":89.1,"y":11.3},{"t":94,"y":11.3},
{"t":32.2,"y":9.7},{"t":34.3,"y":9.7},{"t":36.4,"y":9.7},{"t":38.4,"y":9.7},{"t":42.6,"y":9.7},{"t":44.7,"y":9.7},{"t":53,"y":9.7},{"t":54.4,"y":9.7},{"t":55.8,"y":9.7},{"t":57.2,"y":9.7},{"t":58.6,"y":9.7},{"t":60,"y":9.7},{"t":60.7,"y":9.7},{"t":64.1,"y":9.7},{"t":66.9,"y":9.7},{"t":73.9,"y":9.7},{"t":76.6,"y":9.7},{"t":80.8,"y":9.7},{"t":85,"y":9.7},{"t":87.7,"y":9.7},{"t":91.9,"y":9.7},
{"t":72.5,"y":8.7},{"t":76.6,"y":8.7},{"t":85,"y":8.7},{"t":89.1,"y":8.7},{"t":91.9,"y":8.7},{"t":94.7,"y":8.7},
{"t":33.6,"y":6.6},{"t":36.4,"y":6.6},{"t":37.7,"y":6.6},{"t":39.1,"y":6.6},{"t":41.9,"y":6.6},{"t":44.7,"y":6.6},{"t":46.1,"y":6.6},{"t":55.8,"y":6.6},{"t":57.2,"y":6.6},{"t":58.6,"y":6.6},{"t":62.7,"y":6.6},{"t":65.5,"y":6.6},{"t":66.9,"y":6.6},{"t":69.7,"y":6.6},{"t":72.5,"y":6.6},{"t":75.2,"y":6.6},{"t":76.6,"y":6.6},{"t":78,"y":6.6},{"t":80.8,"y":6.6},{"t":83.6,"y":6.6},{"t":86.4,"y":6.6},{"t":89.1,"y":6.6},{"t":91.9,"y":6.6},
{"t":32.2,"y":5},{"t":35,"y":5},{"t":39.1,"y":5},{"t":41.9,"y":5},{"t":47.5,"y":5},{"t":54.4,"y":5},{"t":57.2,"y":5},{"t":58.6,"y":5},{"t":65.5,"y":5},{"t":69.7,"y":5},{"t":72.5,"y":5},{"t":79.4,"y":5},{"t":82.9,"y":5},{"t":85.7,"y":5},{"t":89.8,"y":5},{"t":92.6,"y":5},{"t":94.7,"y":5},
{"t":32.9,"y":4},{"t":38.4,"y":4},{"t":41.9,"y":4},{"t":57.2,"y":4},{"t":62.7,"y":4},{"t":66.9,"y":4},{"t":78.7,"y":4},{"t":82.2,"y":4},{"t":85,"y":4},{"t":87.7,"y":4},{"t":90.5,"y":4},{"t":94,"y":4},
{"t":30.8,"y":2.4},{"t":33.6,"y":2.4},{"t":37.1,"y":2.4},{"t":43.3,"y":2.4},{"t":46.1,"y":2.4},{"t":48.2,"y":2.4},{"t":49.6,"y":2.4},{"t":50.9,"y":2.4},{"t":52.3,"y":2.4},{"t":53.7,"y":2.4},{"t":55.1,"y":2.4},{"t":56.5,"y":2.4},{"t":57.9,"y":2.4},{"t":59.3,"y":2.4},{"t":62.1,"y":2.4},{"t":64.8,"y":2.4},{"t":67.6,"y":2.4},{"t":69.7,"y":2.4},{"t":72.5,"y":2.4},{"t":77.3,"y":2.4},{"t":80.1,"y":2.4},{"t":82.2,"y":2.4},{"t":85,"y":2.4},{"t":87.7,"y":2.4},{"t":90.5,"y":2.4},{"t":93.3,"y":2.4},
{"t":33.6,"y":1.3},{"t":36.4,"y":1.3},{"t":39.1,"y":1.3},{"t":44.7,"y":1.3},{"t":71.1,"y":1.3},{"t":79.4,"y":1.3},{"t":83.6,"y":1.3},{"t":89.1,"y":1.3},{"t":91.9,"y":1.3},
{"t":35,"y":-0.3},{"t":39.1,"y":-0.3},{"t":41.9,"y":-0.3},{"t":44.7,"y":-0.3},{"t":71.1,"y":-0.3},
{"t":32.2,"y":-1.8},{"t":35,"y":-1.8},{"t":38.4,"y":-1.8},{"t":41.9,"y":-1.8},{"t":45.4,"y":-1.8},{"t":48.9,"y":-1.8},{"t":51.6,"y":-1.8},{"t":71.1,"y":-1.8},
{"t":36.4,"y":-3.4},{"t":39.1,"y":-3.4},{"t":44.7,"y":-3.4},{"t":53,"y":-3.4},{"t":69.7,"y":-3.4},{"t":71.1,"y":-3.4},{"t":87.7,"y":-3.4},{"t":89.1,"y":-3.4},{"t":90.5,"y":-3.4},
{"t":37.7,"y":-5},{"t":40.5,"y":-5},{"t":43.3,"y":-5},{"t":64.1,"y":-5},{"t":68.3,"y":-5},{"t":69.7,"y":-5},{"t":71.1,"y":-5},
{"t":33.6,"y":-7.6},{"t":49.6,"y":-7.6},{"t":50.2,"y":-7.6},{"t":51.6,"y":-7.6},{"t":53,"y":-7.6},{"t":64.1,"y":-7.6},{"t":94.7,"y":-7.6},
{"t":41.9,"y":-9.2},{"t":72.5,"y":-9.2},{"t":73.9,"y":-9.2},{"t":76.6,"y":-9.2},{"t":79.4,"y":-9.2},{"t":80.8,"y":-9.2},{"t":85,"y":-9.2},
{"t":44.7,"y":-11.3},{"t":73.9,"y":-11.3},{"t":76.6,"y":-11.3},{"t":90.5,"y":-11.3},
{"t":49.6,"y":-12.9},{"t":50.9,"y":-12.9},{"t":52.3,"y":-12.9},{"t":53.7,"y":-12.9},{"t":76.6,"y":-12.9},{"t":78.7,"y":-12.9},
{"t":48.9,"y":-15.5},{"t":65.5,"y":-15.5},{"t":69.7,"y":-15.5},{"t":72.5,"y":-15.5},{"t":75.2,"y":-15.5},{"t":76.6,"y":-15.5},{"t":78,"y":-15.5},{"t":79.4,"y":-15.5},{"t":82.2,"y":-15.5},
{"t":33.6,"y":-17.6},{"t":44.7,"y":-17.6},{"t":65.5,"y":-17.6},{"t":68.3,"y":-17.6},{"t":87.7,"y":-17.6},
{"t":50.2,"y":-19.7},{"t":51.6,"y":-19.7},{"t":53,"y":-19.7},{"t":58.6,"y":-19.7},{"t":60.7,"y":-19.7},{"t":68.3,"y":-19.7},{"t":75.2,"y":-19.7},{"t":78,"y":-19.7},{"t":80.8,"y":-19.7},{"t":83.6,"y":-19.7},{"t":89.1,"y":-19.7},{"t":93.3,"y":-19.7},
{"t":33.6,"y":-21.3},{"t":36.4,"y":-21.3},{"t":39.1,"y":-21.3},{"t":41.9,"y":-21.3},{"t":44.7,"y":-21.3},{"t":50.9,"y":-21.3},{"t":54.4,"y":-21.3},{"t":57.2,"y":-21.3},{"t":60,"y":-21.3},{"t":71.1,"y":-21.3},{"t":72.5,"y":-21.3},{"t":73.9,"y":-21.3},{"t":90.5,"y":-21.3},{"t":92.6,"y":-21.3},
{"t":35,"y":-22.9},{"t":37.7,"y":-22.9},{"t":40.5,"y":-22.9},{"t":43.3,"y":-22.9},{"t":46.1,"y":-22.9},{"t":47.5,"y":-22.9},{"t":85,"y":-22.9},{"t":86.4,"y":-22.9},{"t":87.7,"y":-22.9},{"t":89.1,"y":-22.9},{"t":91.9,"y":-22.9},
{"t":64.1,"y":-24.5},{"t":68.3,"y":-24.5},{"t":71.1,"y":-24.5},{"t":76.6,"y":-24.5},{"t":85.7,"y":-24.5},{"t":87.7,"y":-24.5},{"t":94,"y":-24.5}
],
"cg":[{"x":-20,"y":0},{"x":-16,"y":0.03},{"x":-12,"y":0.15},{"x":-8,"y":0.45},{"x":-4,"y":0.83},{"x":0,"y":1},{"x":4,"y":0.82},{"x":8,"y":0.36},{"x":12,"y":0.13},{"x":16,"y":0.02},{"x":17.5,"y":0}],
"ck":[{"x":-16,"y":0.02},{"x":-12,"y":0.096,"lo":0.046,"hi":0.148},{"x":-8,"y":0.397,"lo":0.304,"hi":0.498},{"x":-4,"y":0.802,"lo":0.683,"hi":0.926},{"x":0,"y":1},{"x":4,"y":0.701,"lo":0.618,"hi":0.794},{"x":8,"y":0.299,"lo":0.203,"hi":0.397},{"x":12,"y":0.096,"lo":0.055,"hi":0.138},{"x":16,"y":-0.055}],
"cr":[{"x":-24,"y":0.046},{"x":-20,"y":0.55,"lo":0.48,"hi":0.631},{"x":-16,"y":0.922,"lo":0.794,"hi":1.018},{"x":-12,"y":0.904,"lo":0.766,"hi":1.018},{"x":-8,"y":0.701,"lo":0.581,"hi":0.834},{"x":-4,"y":0.351,"lo":0.286,"hi":0.424},{"x":0,"y":0.299,"lo":0.244,"hi":0.36},{"x":4,"y":0.218,"lo":0.096,"hi":0.351},{"x":8,"y":0.135,"lo":0.065,"hi":0.194},{"x":12,"y":0,"lo":-0.037,"hi":0.037}],
"d":[{"g":"b","x":18.7,"y":12.4,"e":10.1},{"g":"b","x":23.2,"y":15.0,"e":11.9},{"g":"b","x":28.2,"y":16.0,"e":10.2},{"g":"b","x":32.9,"y":14.0,"e":8.2},{"g":"b","x":37.9,"y":14.8,"e":11.4},{"g":"b","x":42.9,"y":12.0,"e":8.3},{"g":"a","x":61.6,"y":1.5,"e":4.2},{"g":"a","x":66.3,"y":4.1,"e":8.3},{"g":"a","x":75.7,"y":1.5,"e":7.6},{"g":"a","x":80.8,"y":2.7,"e":10.9},{"g":"a","x":85.6,"y":-1.0,"e":5.9}]
},
"columns":2,
"spacing":{"row":108,"column":41},
"bounds":"flush",
"align":"each",
"concat":[
  {"width":295,"height":187,"title":{"text":"A","dx":-67,"offset":7},
   "layer":[
    {"data":{"values":[{"t":0,"t2":48}]},"mark":{"type":"rect","color":"#c8c8c8"},
     "encoding":{"x":{"field":"t","type":"quantitative","scale":{"domain":[-26.23,96.5],"nice":false,"zero":false},"axis":{"values":[-19.2,-1,20,40,60,79,90.8],"tickCount":20,"labelExpr":"datum.value < -10 ? '-20' : datum.value < 10 ? '0' : datum.value > 85 ? '100' : format(round(datum.value / 20) * 20, 'd')","ticks":false,"tickSize":0,"domain":false,"labelOverlap":false,"labelPadding":6,"title":"peristimulus time (ms)","titlePadding":3,"titleX":151.5}},"x2":{"field":"t2"}}},
    {"data":{"name":"a"},"mark":{"type":"point","shape":"M-0.67,-1L0.67,-1L0.67,1L-0.67,1Z","size":6,"filled":true,"color":"black","opacity":1,"strokeWidth":0},
     "encoding":{"x":{"field":"t","type":"quantitative","scale":{"domain":[-26.23,96.5],"nice":false,"zero":false}},
      "y":{"field":"y","type":"quantitative","scale":{"domain":[-25.9,33.1],"nice":false,"zero":false},"axis":{"values":[30,19.2,10,0.5,-10.3,-20],"tickCount":20,"labelExpr":"datum.value > 5 ? 'R' + round(datum.value / 10) * 10 : datum.value < -5 ? 'L' + round(-datum.value / 10) * 10 : '0'","ticks":false,"tickSize":0,"domain":false,"labelOverlap":false,"offset":-8,"labelPadding":5,"title":["stimulus location","(degrees azimuth)"],"titlePadding":9,"titleY":103,"titleLineHeight":22}}}},
    {"data":{"values":[{"t":-5.5,"y":4.1}]},"mark":{"type":"point","shape":"M-1,-0.5L1,0L-1,0.5Z","size":600,"filled":false,"fill":"white","stroke":"black","strokeWidth":2.5,"opacity":1},
     "encoding":{"x":{"field":"t","type":"quantitative","scale":{"domain":[-26.23,96.5],"nice":false,"zero":false}},"y":{"field":"y","type":"quantitative","scale":{"domain":[-25.9,33.1],"nice":false,"zero":false}}}},
    {"data":{"values":[{"t":-5.5,"y":-13.3}]},"mark":{"type":"point","shape":"M-1,-0.5L1,0L-1,0.5Z","size":729,"filled":true,"color":"black","opacity":1},
     "encoding":{"x":{"field":"t","type":"quantitative","scale":{"domain":[-26.23,96.5],"nice":false,"zero":false}},"y":{"field":"y","type":"quantitative","scale":{"domain":[-25.9,33.1],"nice":false,"zero":false}}}},
    {"data":{"values":[{"t":-22.9,"t2":96.5}]},"mark":{"type":"rect","filled":false,"color":"black","strokeWidth":1.5},
     "encoding":{"x":{"field":"t","type":"quantitative","scale":{"domain":[-26.23,96.5],"nice":false,"zero":false}},"x2":{"field":"t2"}}}
   ]},
  {"width":288,"height":187,"title":{"text":"B","dx":-54,"offset":7},
   "layer":[
    {"data":{"values":[{"t":0,"t2":48}]},"mark":{"type":"rect","color":"#c8c8c8"},
     "encoding":{"x":{"field":"t","type":"quantitative","scale":{"domain":[-23.73,96.1],"nice":false,"zero":false},"axis":{"values":[-21.5,-0.3,20.8,40.5,60.3,79.7,92.9],"tickCount":20,"labelExpr":"datum.value < -10 ? '-20' : datum.value < 10 ? '0' : datum.value > 85 ? '100' : format(round(datum.value / 20) * 20, 'd')","ticks":false,"tickSize":0,"domain":false,"labelOverlap":false,"labelPadding":7,"title":"peristimulus time (ms)","titlePadding":3,"titleX":161}},"x2":{"field":"t2"}}},
    {"data":{"name":"b"},"mark":{"type":"point","shape":"M-0.67,-1L0.67,-1L0.67,1L-0.67,1Z","size":6,"filled":true,"color":"black","opacity":1,"strokeWidth":0},
     "encoding":{"x":{"field":"t","type":"quantitative","scale":{"domain":[-23.73,96.1],"nice":false,"zero":false}},
      "y":{"field":"y","type":"quantitative","scale":{"domain":[-25.9,33.1],"nice":false,"zero":false},"axis":{"values":[30,19.2,10,0.5,-10.3,-20],"tickCount":20,"labelExpr":"datum.value > 5 ? 'R' + round(datum.value / 10) * 10 : datum.value < -5 ? 'L' + round(-datum.value / 10) * 10 : '0'","ticks":false,"tickSize":0,"domain":false,"labelOverlap":false,"offset":-2,"labelPadding":4,"title":null}}}},
    {"data":{"values":[{"t":-5.3,"y":4.7}]},"mark":{"type":"point","shape":"M-1,-0.5L1,0L-1,0.5Z","size":600,"filled":false,"fill":"white","stroke":"black","strokeWidth":2.5,"opacity":1},
     "encoding":{"x":{"field":"t","type":"quantitative","scale":{"domain":[-23.73,96.1],"nice":false,"zero":false}},"y":{"field":"y","type":"quantitative","scale":{"domain":[-25.9,33.1],"nice":false,"zero":false}}}},
    {"data":{"values":[{"t":-22.9,"t2":96.1}]},"mark":{"type":"rect","filled":false,"color":"black","strokeWidth":1.5},
     "encoding":{"x":{"field":"t","type":"quantitative","scale":{"domain":[-23.73,96.1],"nice":false,"zero":false}},"x2":{"field":"t2"}}}
   ]},
  {"width":330,"height":196,"title":{"text":"C","dx":-66,"offset":2},
   "resolve":{"axis":{"x":"independent"}},
   "layer":[
    {"data":{"name":"cg"},"mark":{"type":"area","color":"#d9d9d9"},
     "encoding":{"x":{"field":"x","type":"quantitative","scale":{"domain":[-25.86,20.9],"nice":false,"zero":false},"axis":{"orient":"bottom","values":[-20,-10,0,10,20],"tickCount":20,"labels":false,"tickSize":6,"title":null}},
      "y":{"field":"y","type":"quantitative","scale":{"domain":[-0.057,1.0277],"nice":false,"zero":false},"axis":{"values":[0,0.2,0.4,0.6,0.8,1],"tickCount":20,"format":".1f","tickSize":5,"domain":false,"labelOverlap":false,"labelPadding":3,"title":"Response magnitude re: max","titlePadding":10,"titleY":100}},
      "y2":{"datum":0}}},
    {"data":{"name":"cg"},"mark":{"type":"line","color":"#a8a8a8","strokeWidth":1.5},
     "encoding":{"x":{"field":"x","type":"quantitative","scale":{"domain":[-25.86,20.9],"nice":false,"zero":false},"axis":null},"y":{"field":"y","type":"quantitative","scale":{"domain":[-0.057,1.0277],"nice":false,"zero":false}}}},
    {"data":{"values":[{"x":-25.86,"y":-0.057,"y2":1}]},"mark":{"type":"rule","color":"black","strokeWidth":1.5},
     "encoding":{"x":{"field":"x","type":"quantitative","scale":{"domain":[-25.86,20.9],"nice":false,"zero":false},"axis":null},"y":{"field":"y","type":"quantitative","scale":{"domain":[-0.057,1.0277],"nice":false,"zero":false}},"y2":{"field":"y2"}}},
    {"data":{"values":[{"y":0}]},"mark":{"type":"rule","strokeDash":[1,2],"color":"black","strokeWidth":1},
     "encoding":{"y":{"field":"y","type":"quantitative","scale":{"domain":[-0.057,1.0277],"nice":false,"zero":false}}}},
    {"data":{"name":"ck"},"mark":{"type":"rule","color":"black","strokeWidth":2},
     "encoding":{"x":{"field":"x","type":"quantitative","scale":{"domain":[-25.86,20.9],"nice":false,"zero":false},"axis":null},"y":{"field":"lo","type":"quantitative","scale":{"domain":[-0.057,1.0277],"nice":false,"zero":false}},"y2":{"field":"hi"}}},
    {"data":{"name":"ck"},"mark":{"type":"line","color":"black","strokeWidth":3,"point":{"filled":true,"size":45,"color":"black","opacity":1}},
     "encoding":{"x":{"field":"x","type":"quantitative","scale":{"domain":[-25.86,20.9],"nice":false,"zero":false},"axis":{"orient":"bottom","values":[-20.6,-11.4,-1.2,8.9,16.8],"tickCount":20,"labelExpr":"datum.value < -15 ? '-20' : datum.value < -5 ? '-10' : datum.value < 4 ? '0' : datum.value < 12 ? '10' : '20'","ticks":false,"tickSize":0,"domain":false,"labelOverlap":false,"labelPadding":10,"title":["Speaker location aligned to Vrf","(degrees azimuth)"],"titleX":152,"titlePadding":3,"titleLineHeight":19}},
      "y":{"field":"y","type":"quantitative","scale":{"domain":[-0.057,1.0277],"nice":false,"zero":false}}}},
    {"data":{"name":"cr"},"mark":{"type":"rule","color":"#ff0000","strokeWidth":1.5},
     "encoding":{"x":{"field":"x","type":"quantitative","scale":{"domain":[-25.86,20.9],"nice":false,"zero":false},"axis":null},"y":{"field":"lo","type":"quantitative","scale":{"domain":[-0.057,1.0277],"nice":false,"zero":false}},"y2":{"field":"hi"}}},
    {"data":{"name":"cr"},"mark":{"type":"line","color":"#ff0000","strokeWidth":3,"point":{"filled":true,"shape":"square","size":55,"color":"#ff0000","opacity":1}},
     "encoding":{"x":{"field":"x","type":"quantitative","scale":{"domain":[-25.86,20.9],"nice":false,"zero":false},"axis":null},"y":{"field":"y","type":"quantitative","scale":{"domain":[-0.057,1.0277],"nice":false,"zero":false}}}}
   ]},
  {"width":294,"height":192,"title":{"text":"D","dx":-49,"offset":-7},
   "layer":[
    {"data":{"values":[{"x":4.3,"x2":100,"y":19},{"x":4.3,"x2":100,"y":0}]},"mark":{"type":"rule","strokeDash":[2,2.5],"strokeWidth":2,"color":"black"},
     "encoding":{"x":{"field":"x","type":"quantitative","scale":{"domain":[0,100],"nice":false,"zero":false},"axis":{"values":[31.6,74.1],"labelExpr":"datum.value < 50 ? 'before removal' : 'after removal'","ticks":false,"tickSize":0,"labelOverlap":false,"labelPadding":9,"labelFontSize":16,"title":null}},"x2":{"field":"x2"},
      "y":{"field":"y","type":"quantitative","scale":{"domain":[-3.4,20],"nice":false,"zero":false},"axis":{"values":[0,5,10,15,20],"tickCount":20,"tickSize":6,"labelOverlap":false,"labelPadding":8,"labelFontSize":16,"title":"mean shift in degrees","titleFontSize":15.5,"titlePadding":3,"titleY":91}}}},
    {"data":{"name":"d"},"mark":{"type":"rule","strokeWidth":2,"color":"black"},
     "encoding":{"x":{"field":"x","type":"quantitative","scale":{"domain":[0,100],"nice":false,"zero":false}},"y":{"field":"y","type":"quantitative","scale":{"domain":[-3.4,20],"nice":false,"zero":false}},"y2":{"field":"e"}}},
    {"data":{"name":"d"},"mark":{"type":"tick","orient":"horizontal","size":8,"thickness":2,"color":"black","opacity":1},
     "encoding":{"x":{"field":"x","type":"quantitative","scale":{"domain":[0,100],"nice":false,"zero":false}},"y":{"field":"e","type":"quantitative","scale":{"domain":[-3.4,20],"nice":false,"zero":false}}}},
    {"data":{"name":"d"},"transform":[{"filter":"datum.g == 'b'"}],"mark":{"type":"point","shape":"circle","filled":false,"fill":"white","stroke":"black","strokeWidth":2.5,"size":195,"opacity":1},
     "encoding":{"x":{"field":"x","type":"quantitative","scale":{"domain":[0,100],"nice":false,"zero":false}},"y":{"field":"y","type":"quantitative","scale":{"domain":[-3.4,20],"nice":false,"zero":false}}}},
    {"data":{"name":"d"},"transform":[{"filter":"datum.g == 'a'"}],"mark":{"type":"circle","color":"black","size":250,"opacity":1},
     "encoding":{"x":{"field":"x","type":"quantitative","scale":{"domain":[0,100],"nice":false,"zero":false}},"y":{"field":"y","type":"quantitative","scale":{"domain":[-3.4,20],"nice":false,"zero":false}}}}
   ]}
]
}
